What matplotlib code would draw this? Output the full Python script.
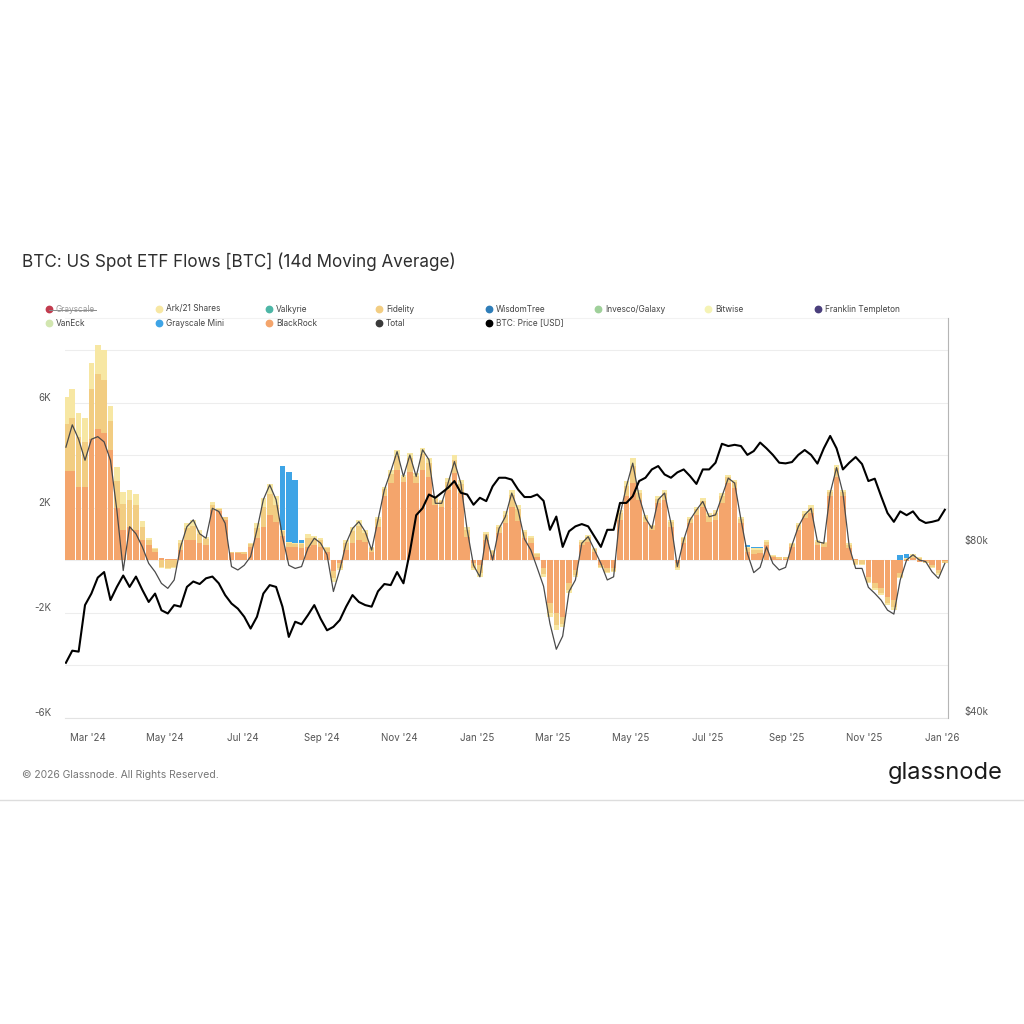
import numpy as np
import pandas as pd
import matplotlib
matplotlib.use('Agg')
import matplotlib.pyplot as plt
import matplotlib.dates as mdates
import matplotlib.transforms as mtransforms
from matplotlib.lines import Line2D

plt.rcParams['font.family'] = ['Inter', 'DejaVu Sans']

# 14d moving average flows in thousands of BTC, sampled every 5 days from 2024-02-13
total = [4.3, 5.15, 4.6, 3.8, 4.6, 4.7, 4.5, 3.8, 1.9, -0.4,
         1.27, 1.0, 0.5, -0.13, -0.45, -0.89, -1.08, -0.76, 0.5, 1.27,
         1.53, 1.0, 0.83, 1.97, 1.85, 1.4, -0.25, -0.38, -0.2, 0.13,
         1.15, 2.3, 2.86, 2.3, 0.9, -0.2, -0.32, -0.25, 0.45, 0.83,
         0.64, 0.2, -1.2, -0.38, 0.64, 1.2, 1.46, 1.08, 0.38, 1.53,
         2.67, 3.37, 4.13, 3.18, 4.0, 3.18, 4.2, 3.82, 2.16, 2.16,
         2.93, 3.75, 2.93, 1.15, -0.2, -0.64, 0.95, 0.0, 1.2, 1.65,
         2.55, 1.9, 0.8, 0.38, -0.3, -1.0, -2.42, -3.4, -2.9, -1.2,
         -0.76, 0.64, 0.89, 0.38, -0.13, -0.76, -0.64, 1.72, 2.8, 3.69,
         2.42, 1.6, 1.2, 2.3, 2.55, 1.4, -0.25, 0.76, 1.53, 1.9,
         2.23, 1.65, 1.72, 2.42, 3.12, 2.93, 1.53, 0.25, -0.48, -0.28,
         0.5, -0.13, -0.38, -0.28, 0.57, 1.27, 1.72, 1.97, 0.7, 0.64,
         2.55, 3.52, 2.55, 0.5, -0.32, -0.32, -1.04, -1.27, -1.53, -1.91,
         -2.06, -0.76, 0.0, 0.2, 0.0, -0.06, -0.45, -0.7, -0.13]

blackrock = [3.4, 3.4, 2.8, 2.8, 4.6, 5.0, 4.85, 4.2, 2.0, 1.15,
             1.27, 1.15, 0.76, 0.57, 0.32, 0.06, 0.03, 0.05, 0.38, 0.76,
             0.76, 0.64, 0.57, 1.9, 1.85, 1.53, 0.25, 0.25, 0.23, 0.5,
             0.83, 1.27, 1.72, 1.46, 0.9, 0.5, 0.5, 0.45, 0.5, 0.57,
             0.5, 0.32, -0.4, -0.1, 0.38, 0.64, 0.76, 0.7, 0.32, 1.27,
             2.42, 2.93, 3.44, 2.99, 3.37, 2.93, 3.44, 3.18, 2.1, 2.03,
             2.67, 3.3, 2.55, 0.89, -0.1, -0.2, 0.76, 0.2, 1.02, 1.4,
             2.03, 1.5, 0.83, 0.64, 0.13, -0.3, -1.65, -2.03, -2.16, -0.89,
             -0.38, 0.57, 0.7, 0.32, -0.2, -0.32, -0.32, 1.53, 2.42, 2.93,
             2.3, 1.46, 1.15, 2.16, 2.3, 1.27, -0.13, 0.64, 1.4, 1.72,
             2.03, 1.46, 1.53, 2.16, 2.93, 2.74, 1.4, 0.32, 0.23, 0.28,
             0.57, 0.1, 0.05, 0.05, 0.5, 1.15, 1.59, 1.78, 0.57, 0.5,
             2.42, 3.18, 2.42, 0.45, 0.02, 0.0, -0.64, -0.89, -1.08, -1.4,
             -1.53, -0.5, -0.03, 0.06, -0.06, -0.05, -0.2, -0.38, -0.05]

fidelity = [1.8, 2.0, 1.9, 1.7, 1.9, 2.1, 2.0, 1.1, 1.0, 1.0,
            1.0, 0.95, 0.5, 0.18, 0.1, -0.25, -0.3, -0.25, 0.28, 0.45,
            0.55, 0.36, 0.22, 0.2, 0.1, 0.1, 0.05, 0.05, 0.07, 0.1,
            0.4, 0.75, 0.8, 0.65, 0.2, 0.15, 0.1, 0.15, 0.35, 0.25,
            0.25, 0.13, -0.3, -0.2, 0.28, 0.45, 0.55, 0.33, 0.13, 0.28,
            0.28, 0.36, 0.54, 0.18, 0.5, 0.27, 0.58, 0.5, 0.23, 0.2,
            0.32, 0.5, 0.36, 0.27, -0.2, -0.3, 0.23, 0.13, 0.23, 0.32,
            0.46, 0.43, 0.23, 0.18, 0.08, -0.24, -0.35, -0.45, -0.28, -0.27,
            -0.18, 0.13, 0.18, 0.09, -0.08, -0.13, -0.09, 0.26, 0.41, 0.67,
            0.26, 0.18, 0.13, 0.18, 0.26, 0.18, -0.18, 0.18, 0.18, 0.22,
            0.22, 0.22, 0.26, 0.27, 0.22, 0.22, 0.18, 0.12, 0.15, 0.12,
            0.13, 0.07, 0.05, 0.05, 0.1, 0.18, 0.18, 0.22, 0.13, 0.14,
            0.18, 0.32, 0.18, 0.13, -0.15, -0.14, -0.18, -0.18, -0.18, -0.22,
            -0.27, -0.14, 0.04, 0.11, 0.08, -0.05, -0.08, -0.13, -0.05]

ark = [1.0, 1.1, 0.9, 0.9, 1.0, 1.1, 1.15, 0.55, 0.56, 0.45,
       0.4, 0.4, 0.24, 0.08, 0.03, -0.05, -0.06, -0.05, 0.1, 0.19,
       0.22, 0.15, 0.1, 0.1, 0.02, 0.02, 0.02, 0.02, 0.02, 0.04,
       0.17, 0.33, 0.38, 0.31, 0.05, 0.05, 0.04, 0.05, 0.15, 0.08,
       0.08, 0.05, -0.13, -0.08, 0.1, 0.18, 0.22, 0.12, 0.05, 0.1,
       0.1, 0.15, 0.22, 0.07, 0.2, 0.1, 0.24, 0.2, 0.09, 0.07,
       0.13, 0.2, 0.14, 0.11, -0.08, -0.14, 0.09, 0.05, 0.09, 0.13,
       0.18, 0.17, 0.09, 0.08, 0.04, -0.1, -0.16, -0.19, -0.11, -0.11,
       -0.08, 0.06, 0.07, 0.04, -0.04, -0.05, -0.04, 0.11, 0.17, 0.28,
       0.11, 0.08, 0.06, 0.08, 0.11, 0.08, -0.07, 0.07, 0.07, 0.09,
       0.1, 0.1, 0.11, 0.12, 0.09, 0.09, 0.07, 0.05, 0.06, 0.05,
       0.06, 0.03, 0.03, 0.02, 0.04, 0.07, 0.08, 0.1, 0.06, 0.06,
       0.07, 0.13, 0.07, 0.06, -0.05, -0.06, -0.07, -0.08, -0.08, -0.1,
       -0.11, -0.06, 0.02, 0.06, 0.05, -0.02, -0.04, -0.06, -0.02]

grayscale_mini = [0, 0, 0, 0, 0, 0, 0, 0, 0, 0,
                  0, 0, 0, 0, 0, 0, 0, 0, 0, 0,
                  0, 0, 0, 0, 0, 0, 0, 0, 0, 0,
                  0, 0, 0, 0, 2.45, 2.67, 2.4, 0.1, 0, 0,
                  0, 0, 0, 0, 0, 0, 0, 0, 0, 0,
                  0, 0, 0, 0, 0, 0, 0, 0, 0, 0,
                  0, 0, 0, 0, 0, 0, 0, 0, 0, 0,
                  0, 0, 0, 0, 0, 0, 0, 0, 0, 0,
                  0, 0, 0, 0, 0, 0, 0, 0, 0, 0,
                  0, 0, 0, 0, 0, 0, 0, 0, 0, 0,
                  0, 0, 0, 0, 0, 0, 0, 0.08, 0.06, 0.05,
                  0, 0, 0, 0, 0, 0, 0, 0, 0, 0,
                  0, 0, 0, 0, 0, 0, 0, 0, 0, 0,
                  0, 0.2, 0.15, 0, 0, 0, 0, 0, 0]

# BTC price in thousands of USD
price = [49.9, 52.4, 52.2, 63.0, 66.0, 70.4, 72.0, 64.3, 67.8, 71.0,
         67.8, 70.7, 67.0, 63.8, 66.0, 61.7, 60.9, 63.0, 62.6, 67.8,
         69.3, 68.6, 70.2, 70.7, 68.8, 65.6, 63.4, 62.1, 60.1, 57.3,
         60.1, 66.0, 68.3, 67.8, 62.6, 55.4, 58.9, 58.3, 60.5, 63.0,
         59.6, 56.9, 57.7, 59.3, 62.6, 65.6, 63.8, 63.0, 62.6, 66.6,
         68.6, 68.3, 72.0, 68.8, 78.0, 90.6, 93.2, 98.5, 97.2, 99.2,
         101.2, 104.0, 99.2, 98.5, 94.5, 97.2, 95.9, 101.8, 105.4, 105.4,
         104.6, 100.5, 97.5, 97.5, 98.5, 96.0, 85.4, 90.1, 79.7, 84.9,
         86.6, 87.4, 86.6, 83.1, 79.7, 85.4, 85.4, 95.2, 95.2, 97.8,
         104.0, 105.4, 109.0, 110.5, 106.8, 105.4, 107.7, 109.0, 106.1, 102.8,
         109.0, 109.0, 112.0, 120.9, 119.8, 120.4, 119.8, 115.6, 117.4, 121.5,
         118.7, 115.6, 112.0, 111.7, 112.3, 115.6, 117.9, 115.6, 111.6, 118.7,
         124.8, 118.7, 109.0, 112.0, 114.6, 111.4, 104.0, 105.0, 97.8, 91.4,
         88.2, 92.0, 90.6, 92.0, 89.0, 87.8, 88.2, 88.8, 92.6]

legend_row1 = ['Grayscale', 'Ark/21 Shares', 'Valkyrie', 'Fidelity', 'WisdomTree',
               'Invesco/Galaxy', 'Bitwise', 'Franklin Templeton']
legend_row2 = ['VanEck', 'Grayscale Mini', 'BlackRock', 'Total', 'BTC: Price [USD]']

colors = {
    'Grayscale': '#c23b4e', 'Ark/21 Shares': '#f7e7a3', 'Valkyrie': '#4db6a6',
    'Fidelity': '#f2cd82', 'WisdomTree': '#2e7db8', 'Invesco/Galaxy': '#9fd09a',
    'Bitwise': '#f5f3b5', 'Franklin Templeton': '#4a3f7c', 'VanEck': '#d2e6b0',
    'Grayscale Mini': '#3ea4e6', 'BlackRock': '#f4a56c', 'Total': '#3a3a3a',
    'BTC: Price [USD]': '#000000',
}

dates = pd.date_range('2024-02-13', periods=len(total), freq='5D')

W, H = 1024, 1024
fig = plt.figure(figsize=(10.24, 10.24), dpi=100)
fig.patch.set_facecolor('white')


def fx(x):
    return x / W


def fy(y):
    return 1 - y / H


ax = fig.add_axes([fx(65), fy(717.5), fx(948) - fx(65), fy(318) - fy(717.5)])
ax2 = ax.twinx()

# stacked bars (BlackRock at the bottom, Grayscale Mini on top)
pos = np.zeros(len(dates))
neg = np.zeros(len(dates))
for name, vals in [('BlackRock', blackrock), ('Fidelity', fidelity),
                   ('Ark/21 Shares', ark), ('Grayscale Mini', grayscale_mini)]:
    v = np.array(vals, dtype=float)
    bottom = np.where(v >= 0, pos, neg)
    ax.bar(dates, v, bottom=bottom, width=4.4, color=colors[name], linewidth=0, zorder=2)
    pos += np.clip(v, 0, None)
    neg += np.clip(v, None, 0)

ax.plot(dates, total, color='#4a4a4a', lw=0.9, zorder=3)

ax.set_xlim(pd.Timestamp('2024-02-12 07:00'), pd.Timestamp('2026-01-05 12:00'))
ax.set_ylim(-6.0, 9.22)
ax.set_yticks([-6, -4, -2, 0, 2, 4, 6, 8])
ax.set_yticklabels(['-6K', '', '-2K', '', '2K', '', '6K', ''])
ax.grid(axis='y', color='#ededed', lw=0.8, zorder=0)
ax.set_axisbelow(True)
ax.tick_params(axis='y', length=0, pad=10, labelsize=7, labelcolor='#555555')
ax.tick_params(axis='x', length=0, pad=11, labelsize=7, labelcolor='#555555')
ax.xaxis.set_major_locator(mdates.MonthLocator(bymonth=[1, 3, 5, 7, 9, 11]))
ax.xaxis.set_major_formatter(mdates.DateFormatter("%b '%y"))
for s in ['left', 'right']:
    ax.spines[s].set_visible(False)
ax.spines['top'].set_color('#f2f2f2')
ax.spines['bottom'].set_color('#e3e3e3')

# price on log right axis
ax2.plot(dates, np.array(price) * 1000, color='black', lw=1.5, zorder=4)
ax2.set_yscale('log')
ax2.set_ylim(40000, 201000)
ax2.set_yticks([40000, 80000])
ax2.set_yticklabels(['$40k', '$80k'])
ax2.yaxis.set_minor_locator(matplotlib.ticker.NullLocator())
ax2.tick_params(axis='y', length=0, pad=12, labelsize=7, labelcolor='#555555')
for s in ['left', 'top', 'bottom']:
    ax2.spines[s].set_visible(False)
ax2.spines['right'].set_color('#b5b5b5')

# lift tick labels slightly above their gridlines
up = mtransforms.ScaledTranslation(0, 6 / 100, fig.dpi_scale_trans)
for lab in ax.get_yticklabels() + ax2.get_yticklabels():
    lab.set_transform(lab.get_transform() + up)

# title
fig.text(fx(22), fy(262), 'BTC: US Spot ETF Flows [BTC] (14d Moving Average)',
         fontsize=12.3, color='#2e2e2e', va='center', ha='left')

# legend drawn by hand in a fixed grid
col_x = [49, 159, 269, 379, 489, 598, 708, 818]
for row_y, names in [(309, legend_row1), (323, legend_row2)]:
    for cx, name in zip(col_x, names):
        fig.add_artist(Line2D([fx(cx)], [fy(row_y)], marker='o', markersize=4.6,
                              color=colors[name], linestyle='none'))
        tcol = '#9a9a9a' if name == 'Grayscale' else '#444444'
        fig.text(fx(cx + 7), fy(row_y), name, fontsize=6, color=tcol,
                 va='center', ha='left')
# Grayscale is switched off: struck through
fig.add_artist(Line2D([fx(49), fx(96)], [fy(309.5), fy(309.5)], color='#8a8a8a', lw=0.7))

# footer
fig.text(fx(22), fy(775), '\u00a9 2026 Glassnode. All Rights Reserved.',
         fontsize=7.5, color='#777777', va='center', ha='left')
fig.text(fx(1003), fy(773), 'glassnode', fontsize=17, color='#1a1a1a',
         va='center', ha='right')
fig.add_artist(Line2D([0, 1], [fy(800), fy(800)], color='#dddddd', lw=1))

fig.savefig('out.png', dpi=100, facecolor='white')
